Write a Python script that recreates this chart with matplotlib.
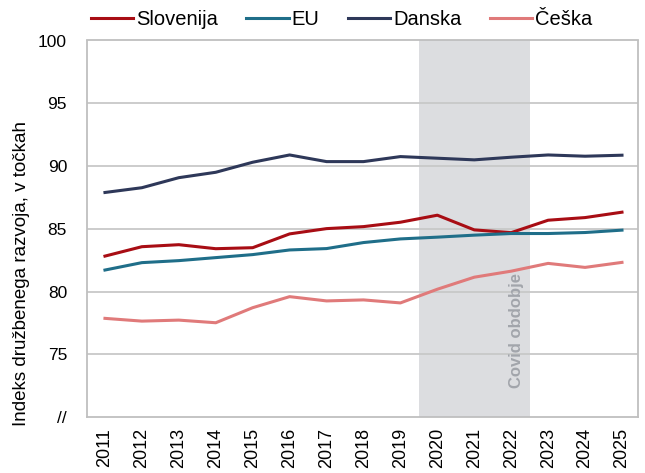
import matplotlib
matplotlib.use("Agg")
import matplotlib.pyplot as plt
from matplotlib import font_manager

years = list(range(2011, 2026))
slovenija = [82.82, 83.57, 83.73, 83.41, 83.49, 84.59, 85.01, 85.17, 85.52, 86.08, 84.91, 84.69, 85.68, 85.89, 86.32]
eu = [81.71, 82.30, 82.46, 82.70, 82.94, 83.31, 83.42, 83.90, 84.19, 84.33, 84.49, 84.62, 84.62, 84.70, 84.89]
danska = [87.89, 88.27, 89.07, 89.50, 90.30, 90.88, 90.35, 90.35, 90.75, 90.62, 90.49, 90.70, 90.88, 90.78, 90.86]
ceska = [77.86, 77.64, 77.72, 77.51, 78.71, 79.59, 79.25, 79.33, 79.09, 80.18, 81.14, 81.62, 82.24, 81.92, 82.32]
y_ticks = [70, 75, 80, 85, 90, 95, 100]
y_tick_labels = ["//", "75", "80", "85", "90", "95", "100"]
covid_start, covid_end = 2020, 2022

installed = {f.name for f in font_manager.fontManager.ttflist}
base_font = "Liberation Sans" if "Liberation Sans" in installed else "DejaVu Sans"
plt.rcParams["font.family"] = [base_font, "DejaVu Sans"]

W, H = 645, 473
fig = plt.figure(figsize=(W / 100, H / 100), dpi=100)
left, right, top, bottom = 86.5, 637.7, 40.5, 417
ax = fig.add_axes([left / W, 1 - bottom / H, (right - left) / W, (bottom - top) / H])

# covid period shading and horizontal grid
ax.axvspan(covid_start - 0.5, covid_end + 0.5, color="#dcdde0", zorder=0, lw=0)
for v in y_ticks[1:-1]:
    ax.axhline(v, color="#c8c8c8", lw=1.3, zorder=1)

series = [
    ("Slovenija", slovenija, "#a80d14"),
    ("EU", eu, "#1f6e89"),
    ("Danska", danska, "#2e3859"),
    ("Češka", ceska, "#e07a7a"),
]
handles = []
for name, vals, col in series:
    h, = ax.plot(years, vals, color=col, lw=2.2, label=name, zorder=3,
                 solid_joinstyle="round")
    handles.append(h)

step = 36.93  # pixels per year
ax.set_xlim(years[0] - 0.5, years[0] - 0.5 + (right - left) / step)
ax.set_ylim(70, 100)
ax.set_yticks(y_ticks)
ax.set_yticklabels(y_tick_labels, fontsize=12.5)
ax.set_xticks(years)
ax.set_xticklabels([str(y) for y in years], rotation=90, fontsize=13)
ax.tick_params(axis="both", length=0, colors="#000000")
ax.tick_params(axis="y", pad=14)
ax.tick_params(axis="x", pad=8)
for s in ax.spines.values():
    s.set_color("#bfbfbf")
    s.set_linewidth(1.3)

fig.text(22 / W, 1 - 273 / H, "Indeks družbenega razvoja, v točkah", rotation=90,
         ha="center", va="center", fontsize=13.5)

ax.text(2022.14, 72.3, "Covid obdobje", rotation=90, ha="center", va="bottom",
        fontsize=12, fontweight="bold", color="#a2a5ab", zorder=2)

fig.legend(handles=handles, loc="center left", bbox_to_anchor=(91 / W, 1 - 19.5 / H), ncol=4,
           frameon=False, handlelength=2.1, handletextpad=0.15, columnspacing=1.4,
           borderpad=0, borderaxespad=0, prop={"size": 14.5})

fig.savefig("out.png", dpi=100)
